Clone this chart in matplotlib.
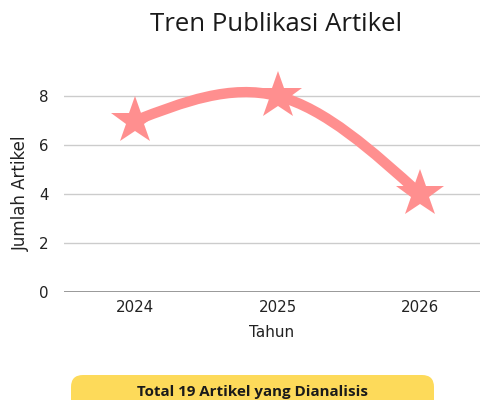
import matplotlib
matplotlib.use("Agg")
import matplotlib.pyplot as plt
import numpy as np
from matplotlib.path import Path
from matplotlib.patches import PathPatch, FancyBboxPatch

plt.rcParams['font.family'] = ['DejaVu Sans']

years = [2024, 2025, 2026]
articles = [7, 8, 4]
y_ticks = [0, 2, 4, 6, 8]
title = "Tren Publikasi Artikel"
footer = "Total 19 Artikel yang Dianalisis"

pink = "#FF8F8F"

fig = plt.figure(figsize=(4.8, 4.0), dpi=100)
ax = fig.add_axes([0.1333, 0.27, 0.8667, 0.551])
ax.set_xlim(2023.5, 2026.42)
ax.set_ylim(0, 9)

# natural cubic spline through the points, drawn as bezier segments
x = np.array(years, dtype=float)
y = np.array(articles, dtype=float)
n = len(x)
h = np.diff(x)
A = np.zeros((n, n))
r = np.zeros(n)
A[0, 0] = A[-1, -1] = 1
for i in range(1, n - 1):
    A[i, i - 1] = h[i - 1]
    A[i, i] = 2 * (h[i - 1] + h[i])
    A[i, i + 1] = h[i]
    r[i] = 6 * ((y[i + 1] - y[i]) / h[i] - (y[i] - y[i - 1]) / h[i - 1])
M = np.linalg.solve(A, r)

verts = [(x[0], y[0])]
codes = [Path.MOVETO]
for i in range(n - 1):
    s = (y[i + 1] - y[i]) / h[i]
    d0 = s - h[i] * (2 * M[i] + M[i + 1]) / 6
    d1 = s + h[i] * (M[i] + 2 * M[i + 1]) / 6
    verts += [(x[i] + h[i] / 3, y[i] + d0 * h[i] / 3),
              (x[i + 1] - h[i] / 3, y[i + 1] - d1 * h[i] / 3),
              (x[i + 1], y[i + 1])]
    codes += [Path.CURVE4] * 3
ax.add_patch(PathPatch(Path(verts, codes), fill=False, edgecolor=pink,
                       lw=7.5, capstyle='round', zorder=3))

ax.plot(years, articles, linestyle='none', marker='*', markersize=36,
        color=pink, markeredgewidth=0, zorder=4, clip_on=False)

ax.set_yticks(y_ticks)
ax.set_xticks(years)
ax.grid(axis='y', color='#cccccc', lw=1)
ax.axhline(0, color='#999999', lw=1.4, zorder=2)
for sp in ax.spines.values():
    sp.set_visible(False)
ax.tick_params(length=0, labelsize=10.8, colors='#222222')
ax.tick_params(axis='y', pad=11)
ax.tick_params(axis='x', pad=6)
ax.set_xlabel("Tahun", fontsize=11, color='#222222', labelpad=7)
ax.set_ylabel("Jumlah Artikel", fontsize=12, color='#222222')
ax.yaxis.set_label_coords(-0.082, 0.447)

fig.text(0.575, 0.938, title, ha='center', va='center', fontsize=18.5,
         color='#1a1a1a', family='Open Sans')

box = FancyBboxPatch((0.71, -0.15), 3.63, 0.4, boxstyle="round,pad=0,rounding_size=0.12",
                     transform=fig.dpi_scale_trans, facecolor='#FDDA5A', edgecolor='none')
fig.patches.append(box)
fig.text(0.526, 0.02, footer, ha='center', va='center', fontsize=10.9,
         fontweight='bold', color='#1a1a1a', family='Open Sans')

fig.savefig("out.png", dpi=100)
